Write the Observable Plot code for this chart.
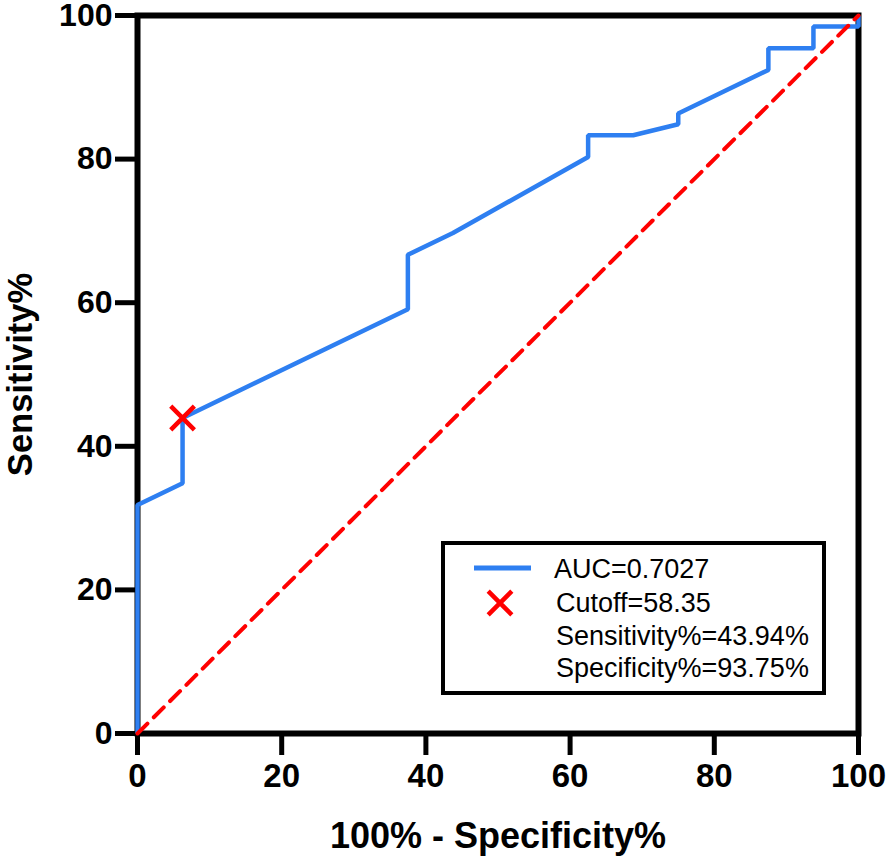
<!DOCTYPE html>
<html>
<head>
<meta charset="utf-8">
<script src="https://cdn.jsdelivr.net/npm/d3@7"></script>
<script src="https://cdn.jsdelivr.net/npm/@observablehq/plot@0.6"></script>
<style>
  html, body { margin: 0; padding: 0; background: #fff; }
  #chart svg { display: block; }
</style>
</head>
<body>
<div id="chart"></div>
<script>
// ROC curve points (100% - Specificity%, Sensitivity%)
const fpr = [0, 0, 6.25, 6.25, 37.5, 37.5, 43.75, 62.5, 62.5, 68.75, 75, 75, 87.5, 87.5, 93.75, 93.75, 100, 100];
const tpr = [0, 31.82, 34.85, 43.94, 59.09, 66.67, 69.70, 80.30, 83.33, 83.33, 84.85, 86.36, 92.42, 95.45, 95.45, 98.48, 98.48, 100];
// Reference (chance) line
const refX = [0, 100];
const refY = [0, 100];
// Cutoff point
const cutoffX = [6.25];
const cutoffY = [43.94];
// Ticks
const ticks = [0, 20, 40, 60, 80, 100];
// Labels
const xLabel = "100% - Specificity%";
const yLabel = "Sensitivity%";
const legendLines = ["AUC=0.7027", "Cutoff=58.35", "Sensitivity%=43.94%", "Specificity%=93.75%"];

const BLUE = "#2e7ff1";
const RED = "#ff0000";
const FONT = "'Liberation Sans', Arial, Helvetica, sans-serif";
const CROSS_R = 10.8;

const roc = fpr.map((x, i) => ({x, y: tpr[i]}));
const diag = refX.map((x, i) => ({x, y: refY[i]}));
const cut = cutoffX.map((x, i) => ({x, y: cutoffY[i]}));

const chart = Plot.plot({
  width: 886,
  height: 859,
  marginLeft: 137,
  marginRight: 28,
  marginTop: 15,
  marginBottom: 126,
  style: {fontFamily: FONT, background: "#fff", overflow: "visible"},
  x: {domain: [0, 100]},
  y: {domain: [0, 100]},
  marks: [
    Plot.frame({stroke: "black", strokeWidth: 6}),
    Plot.axisX({ticks, tickSize: 22, tickPadding: 8, strokeWidth: 5, fontSize: 33, fontWeight: "bold", fill: "black", label: null, tickFormat: d => d}),
    Plot.axisY({ticks, tickSize: 22, tickPadding: 3, strokeWidth: 5, fontSize: 32, fontWeight: "bold", fill: "black", label: null, tickFormat: d => d}),
    Plot.line(roc, {x: "x", y: "y", stroke: BLUE, strokeWidth: 4.5, strokeLinejoin: "miter", strokeLinecap: "butt"}),
    Plot.line(diag, {x: "x", y: "y", stroke: RED, strokeWidth: 4, strokeDasharray: "14,9"}),
    Plot.dot(cut, {x: "x", y: "y", symbol: "times", r: CROSS_R, stroke: RED, strokeWidth: 4.5}),
    Plot.text([xLabel], {text: d => d, frameAnchor: "bottom", dy: 103, textAnchor: "middle", lineAnchor: "middle", fontSize: 36, fontWeight: "bold", fill: "black"}),
    Plot.text([yLabel], {text: d => d, frameAnchor: "left", dx: -117, rotate: -90, textAnchor: "middle", lineAnchor: "middle", fontSize: 34.5, fontWeight: "bold", fill: "black"})
  ]
});

document.getElementById("chart").appendChild(chart);

// Legend box drawn inside the plot's SVG
const svg = d3.select(chart);
const lg = svg.append("g").attr("class", "legend");
lg.append("rect")
  .attr("x", 443).attr("y", 543).attr("width", 381).attr("height", 150)
  .attr("fill", "white").attr("stroke", "black").attr("stroke-width", 4);
lg.append("line")
  .attr("x1", 474).attr("x2", 531).attr("y1", 568).attr("y2", 568)
  .attr("stroke", BLUE).attr("stroke-width", 5);
lg.append("path")
  .attr("transform", "translate(500,603)")
  .attr("d", d3.symbol(d3.symbolTimes, CROSS_R * CROSS_R * Math.PI)())
  .attr("fill", "none").attr("stroke", RED).attr("stroke-width", 4.5);
const baselines = [578, 612, 644.5, 677];
lg.selectAll("text.lt").data(legendLines).join("text")
  .attr("class", "lt")
  .attr("x", (d, i) => i === 0 ? 554 : 556)
  .attr("y", (d, i) => baselines[i])
  .attr("text-anchor", "start")
  .attr("font-family", FONT)
  .attr("font-size", 27)
  .attr("fill", "black")
  .text(d => d);
</script>
</body>
</html>
